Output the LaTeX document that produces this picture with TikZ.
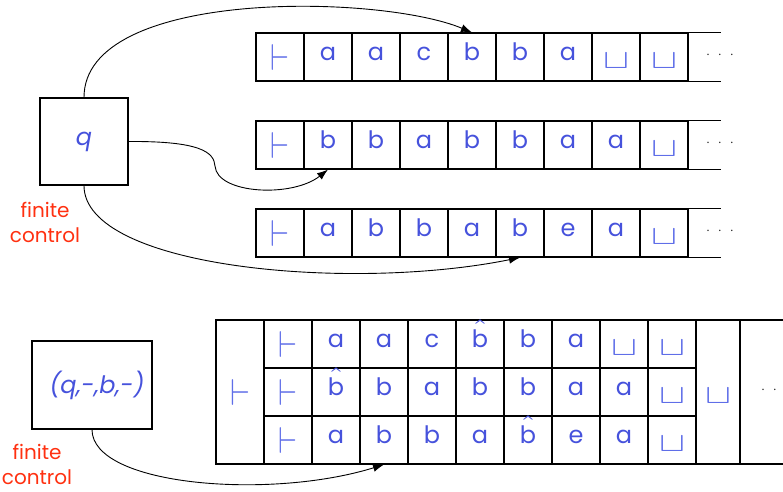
\documentclass[tikz,border=0pt]{standalone}
\usepackage{fontspec}
\setmainfont{Poppins}
\usetikzlibrary{arrows.meta}
\definecolor{sym}{RGB}{70,82,220}
\definecolor{symlt}{RGB}{95,110,232}
\definecolor{fcred}{RGB}{255,48,16}
\newcommand\tmten[1]{{\fontsize{10}{12}\selectfont$#1$}}
\newcommand\tmturn{\raisebox{-10pt}{\color{symlt}\resizebox{19pt}{26pt}{\tmten{\vdash}}}}
\newcommand\tmbigturn{\raisebox{-10pt}{\color{symlt}\resizebox{20pt}{26pt}{\tmten{\vdash}}}}
\newcommand\tmblank{\raisebox{-8pt}{\color{symlt}\resizebox{26pt}{15pt}{\tmten{\sqcup}}}}
\newcommand\tmhb{\sbox0{b}\rlap{b}\makebox[\wd0]{\raisebox{7pt}{\scalebox{3.6}[3.0]{\tmten{\hat{}}}}}}
\newcommand\tmdots{$\cdot$\hspace{8pt}$\cdot$\hspace{8pt}$\cdot$}
\tikzset{
  cell/.style={draw, line width=1.1pt, minimum width=48pt, minimum height=48pt, inner sep=0pt,
    text height=16pt, text depth=10pt, font=\fontsize{24}{24}\selectfont, text=sym},
  tall/.style={cell, minimum height=144pt},
  fcbox/.style={draw, line width=1.1pt, inner sep=0pt, font=\fontsize{24}{24}\selectfont\itshape, text=sym},
  fclabel/.style={align=center, text=fcred, font=\fontsize{20}{25}\selectfont, inner sep=0pt},
  dotsty/.style={inner sep=0pt, font=\fontsize{14}{14}\selectfont, text=black!85},
  arr/.style={line width=0.9pt, -{Latex[length=11pt,width=8pt]}},
  tapeline/.style={line width=1.1pt}
}
\begin{document}
\begin{tikzpicture}[x=1pt,y=-1pt]
\useasboundingbox (0,0) rectangle (783,491);
% top tapes
\foreach \s [count=\i] in {\tmturn,a,a,c,b,b,a,\tmblank,\tmblank}
  \node[cell] (ta\i) at ({280+48*(\i-1)},57) {\s};
\foreach \s [count=\i] in {\tmturn,b,b,a,b,b,a,a,\tmblank}
  \node[cell] (tb\i) at ({280+48*(\i-1)},145) {\s};
\foreach \s [count=\i] in {\tmturn,a,b,b,a,b,e,a,\tmblank}
  \node[cell] (tc\i) at ({280+48*(\i-1)},233) {\s};
\foreach \t in {ta,tb,tc}{
  \draw[tapeline] (\t9.north east) -- ++(32,0);
  \draw[tapeline] (\t9.south east) -- ++(32,0);
}
\node[dotsty] (da) at (720,55) {\tmdots};
\node[dotsty] (db) at (720,143) {\tmdots};
\node[dotsty] (dc) at (720,231) {\tmdots};
% finite control top
\node[fcbox, minimum width=88pt, minimum height=87pt] (fca) at (84,141.5) {q};
\node[fclabel] (la) at (45,222) {finite\\control};
\draw[arr] (fca.north) .. controls (84,-12) and (380,-6) .. (ta5.north);
\draw[arr] (fca.east) .. controls (200,141) and (214,152) .. (215,166)
   .. controls (217,194) and (292,198) .. (tb2.south);
\draw[arr] (fca.south) .. controls (84,268) and (350,292) .. (tc6.south);
% bottom
\node[tall] (bl) at (240,392) {\tmbigturn};
\foreach \s [count=\i] in {\tmturn,a,a,c,\tmhb,b,a,\tmblank,\tmblank}
  \node[cell] (ba\i) at ({288+48*(\i-1)},344) {\s};
\foreach \s [count=\i] in {\tmturn,\tmhb,b,a,b,b,a,a,\tmblank}
  \node[cell] (bb\i) at ({288+48*(\i-1)},392) {\s};
\foreach \s [count=\i] in {\tmturn,a,b,b,a,\tmhb,e,a,\tmblank}
  \node[cell] (bc\i) at ({288+48*(\i-1)},440) {\s};
\node[tall, minimum width=44pt] (bu) at (718,392) {\tmblank};
\node[tall, minimum width=60pt] (be) at (770,392) {};
\node[dotsty] (dd) at (775,390) {\tmdots};
\node[fcbox, minimum width=120pt, minimum height=88pt] (fcb) at (92,385) {};
\node[inner sep=0pt, font=\fontsize{24}{24}\selectfont\itshape, text=sym] (fct) at (97,385) {(q,-,b,-)};
\node[fclabel] (lb) at (37,464) {finite\\control};
\draw[arr] (fcb.south) .. controls (92,486) and (270,500) .. (bc3.south);
\end{tikzpicture}
\end{document}
